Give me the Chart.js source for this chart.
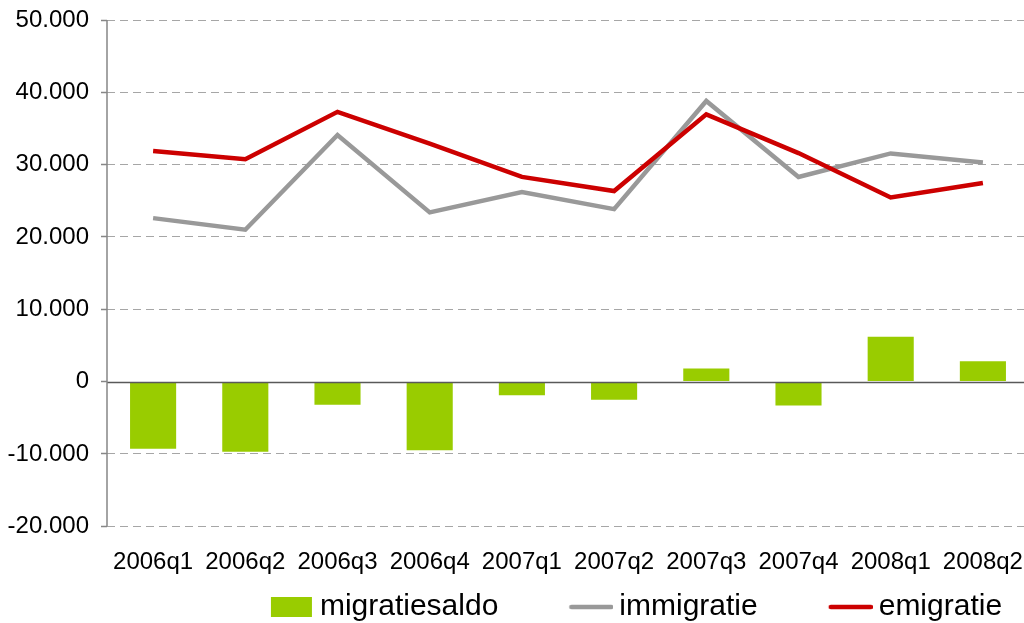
<!DOCTYPE html>
<html lang="nl">
<head>
    <meta charset="UTF-8">
    <title>Migratie per kwartaal</title>
    <script src="https://cdn.jsdelivr.net/npm/chart.js@4"></script>
    <style>
        html, body {
            margin: 0;
            padding: 0;
            background: #fff;
            overflow: hidden;
        }
        .chart-container {
            position: relative;
            width: 1211px;
            height: 623px;
        }
    </style>
</head>
<body>
    <div class="chart-container">
        <canvas id="migChart" width="1211" height="623"></canvas>
    </div>

    <script>
        // Data
        const quarters = ['2006q1', '2006q2', '2006q3', '2006q4', '2007q1', '2007q2', '2007q3', '2007q4', '2008q1', '2008q2'];
        const migratiesaldo = [-9300, -9700, -3200, -9500, -1900, -2500, 1800, -3300, 6200, 2800];
        const immigratie = [22600, 21000, 34100, 23400, 26200, 23850, 38800, 28300, 31550, 30300];
        const emigratie = [31900, 30750, 37300, 32900, 28300, 26350, 36950, 31600, 25450, 27450];
        const seriesNames = ['migratiesaldo', 'immigratie', 'emigratie'];

        const GREEN = '#99cc00';
        const GREY = '#999999';
        const RED = '#cc0000';
        const FONT = 'Liberation Sans, Arial, sans-serif';

        // legend marker width (text offset) and image width
        const BOX_W = 96;
        const IMG_W = BOX_W + 18;

        function legendMarker(kind, color) {
            const c = document.createElement('canvas');
            c.width = IMG_W;
            c.height = 20;
            const g = c.getContext('2d');
            if (kind === 'box') {
                g.fillStyle = color;
                g.fillRect(IMG_W - 43, 0, 41, 20);
            } else {
                g.strokeStyle = color;
                g.lineWidth = 4.5;
                g.lineCap = 'round';
                g.beginPath();
                g.moveTo(IMG_W - 42, 10);
                g.lineTo(IMG_W - 2, 10);
                g.stroke();
            }
            return c;
        }

        function fmt(v) {
            return String(v).replace(/\B(?=(\d{3})+(?!\d))/g, '.');
        }

        // solid y axis line and zero line
        const axisLines = {
            id: 'axisLines',
            afterDatasetsDraw(chart) {
                const {ctx, chartArea, scales} = chart;
                const y0 = Math.round(scales.y.getPixelForValue(0)) + 0.5;
                ctx.save();
                ctx.lineWidth = 1.5;
                ctx.strokeStyle = '#595959';
                ctx.beginPath();
                ctx.moveTo(chartArea.left, y0);
                ctx.lineTo(chartArea.right, y0);
                ctx.stroke();
                ctx.strokeStyle = '#868686';
                ctx.beginPath();
                ctx.moveTo(chartArea.left, chartArea.top);
                ctx.lineTo(chartArea.left, chartArea.bottom);
                ctx.stroke();
                ctx.restore();
            }
        };

        const markers = [legendMarker('box', GREEN), legendMarker('line', GREY), legendMarker('line', RED)];
        const markerColors = [GREEN, GREY, RED];

        const ctx = document.getElementById('migChart').getContext('2d');
        const chart = new Chart(ctx, {
            type: 'bar',
            data: {
                labels: quarters,
                datasets: [
                    {
                        label: seriesNames[0],
                        data: migratiesaldo,
                        backgroundColor: GREEN,
                        categoryPercentage: 1,
                        barPercentage: 0.5,
                        order: 2
                    },
                    {
                        type: 'line',
                        label: seriesNames[1],
                        data: immigratie,
                        borderColor: GREY,
                        borderWidth: 4.5,
                        pointRadius: 0,
                        tension: 0,
                        order: 1
                    },
                    {
                        type: 'line',
                        label: seriesNames[2],
                        data: emigratie,
                        borderColor: RED,
                        borderWidth: 4.5,
                        pointRadius: 0,
                        tension: 0,
                        order: 0
                    }
                ]
            },
            options: {
                responsive: false,
                animation: false,
                layout: {
                    padding: {top: 20, left: 0, right: 0, bottom: -9}
                },
                plugins: {
                    tooltip: {enabled: false},
                    legend: {
                        position: 'bottom',
                        align: 'center',
                        labels: {
                            usePointStyle: true,
                            pointStyleWidth: BOX_W,
                            boxHeight: 20,
                            padding: 10,
                            color: '#000',
                            font: {family: FONT, size: 30},
                            generateLabels: () => seriesNames.map((name, i) => ({
                                text: name,
                                pointStyle: markers[i],
                                fillStyle: markerColors[i],
                                strokeStyle: markerColors[i],
                                lineWidth: 0,
                                hidden: false,
                                datasetIndex: i
                            }))
                        }
                    }
                },
                scales: {
                    x: {
                        afterFit(scale) { scale.height -= 17; },
                        grid: {display: false, drawTicks: false},
                        border: {display: false},
                        ticks: {
                            color: '#000',
                            font: {family: FONT, size: 24},
                            padding: 22,
                            autoSkip: false,
                            maxRotation: 0
                        }
                    },
                    y: {
                        min: -20000,
                        max: 50000,
                        afterFit(scale) {
                            scale.width = 107;
                            scale.paddingTop = 0;
                            scale.paddingBottom = 0;
                        },
                        border: {display: false, dash: [8, 5]},
                        grid: {
                            color: ctx => ctx.tick && ctx.tick.value === 0 ? 'rgba(0,0,0,0)' : '#a6a6a6',
                            lineWidth: 1,
                            tickColor: '#868686',
                            tickLength: 6,
                            tickWidth: 1.5,
                            tickBorderDash: []
                        },
                        ticks: {
                            stepSize: 10000,
                            color: '#000',
                            padding: 12,
                            font: {family: FONT, size: 24},
                            callback: v => fmt(v)
                        }
                    },
                    // spacer so the legend can run past the plot on the right
                    spacer: {
                        type: 'linear',
                        position: 'right',
                        afterFit(scale) {
                            scale.width = 1211 - 1029;
                            scale.paddingTop = 0;
                            scale.paddingBottom = 0;
                        },
                        grid: {display: false, drawTicks: false},
                        border: {display: false},
                        ticks: {display: false}
                    }
                }
            },
            plugins: [axisLines]
        });
    </script>
</body>
</html>
